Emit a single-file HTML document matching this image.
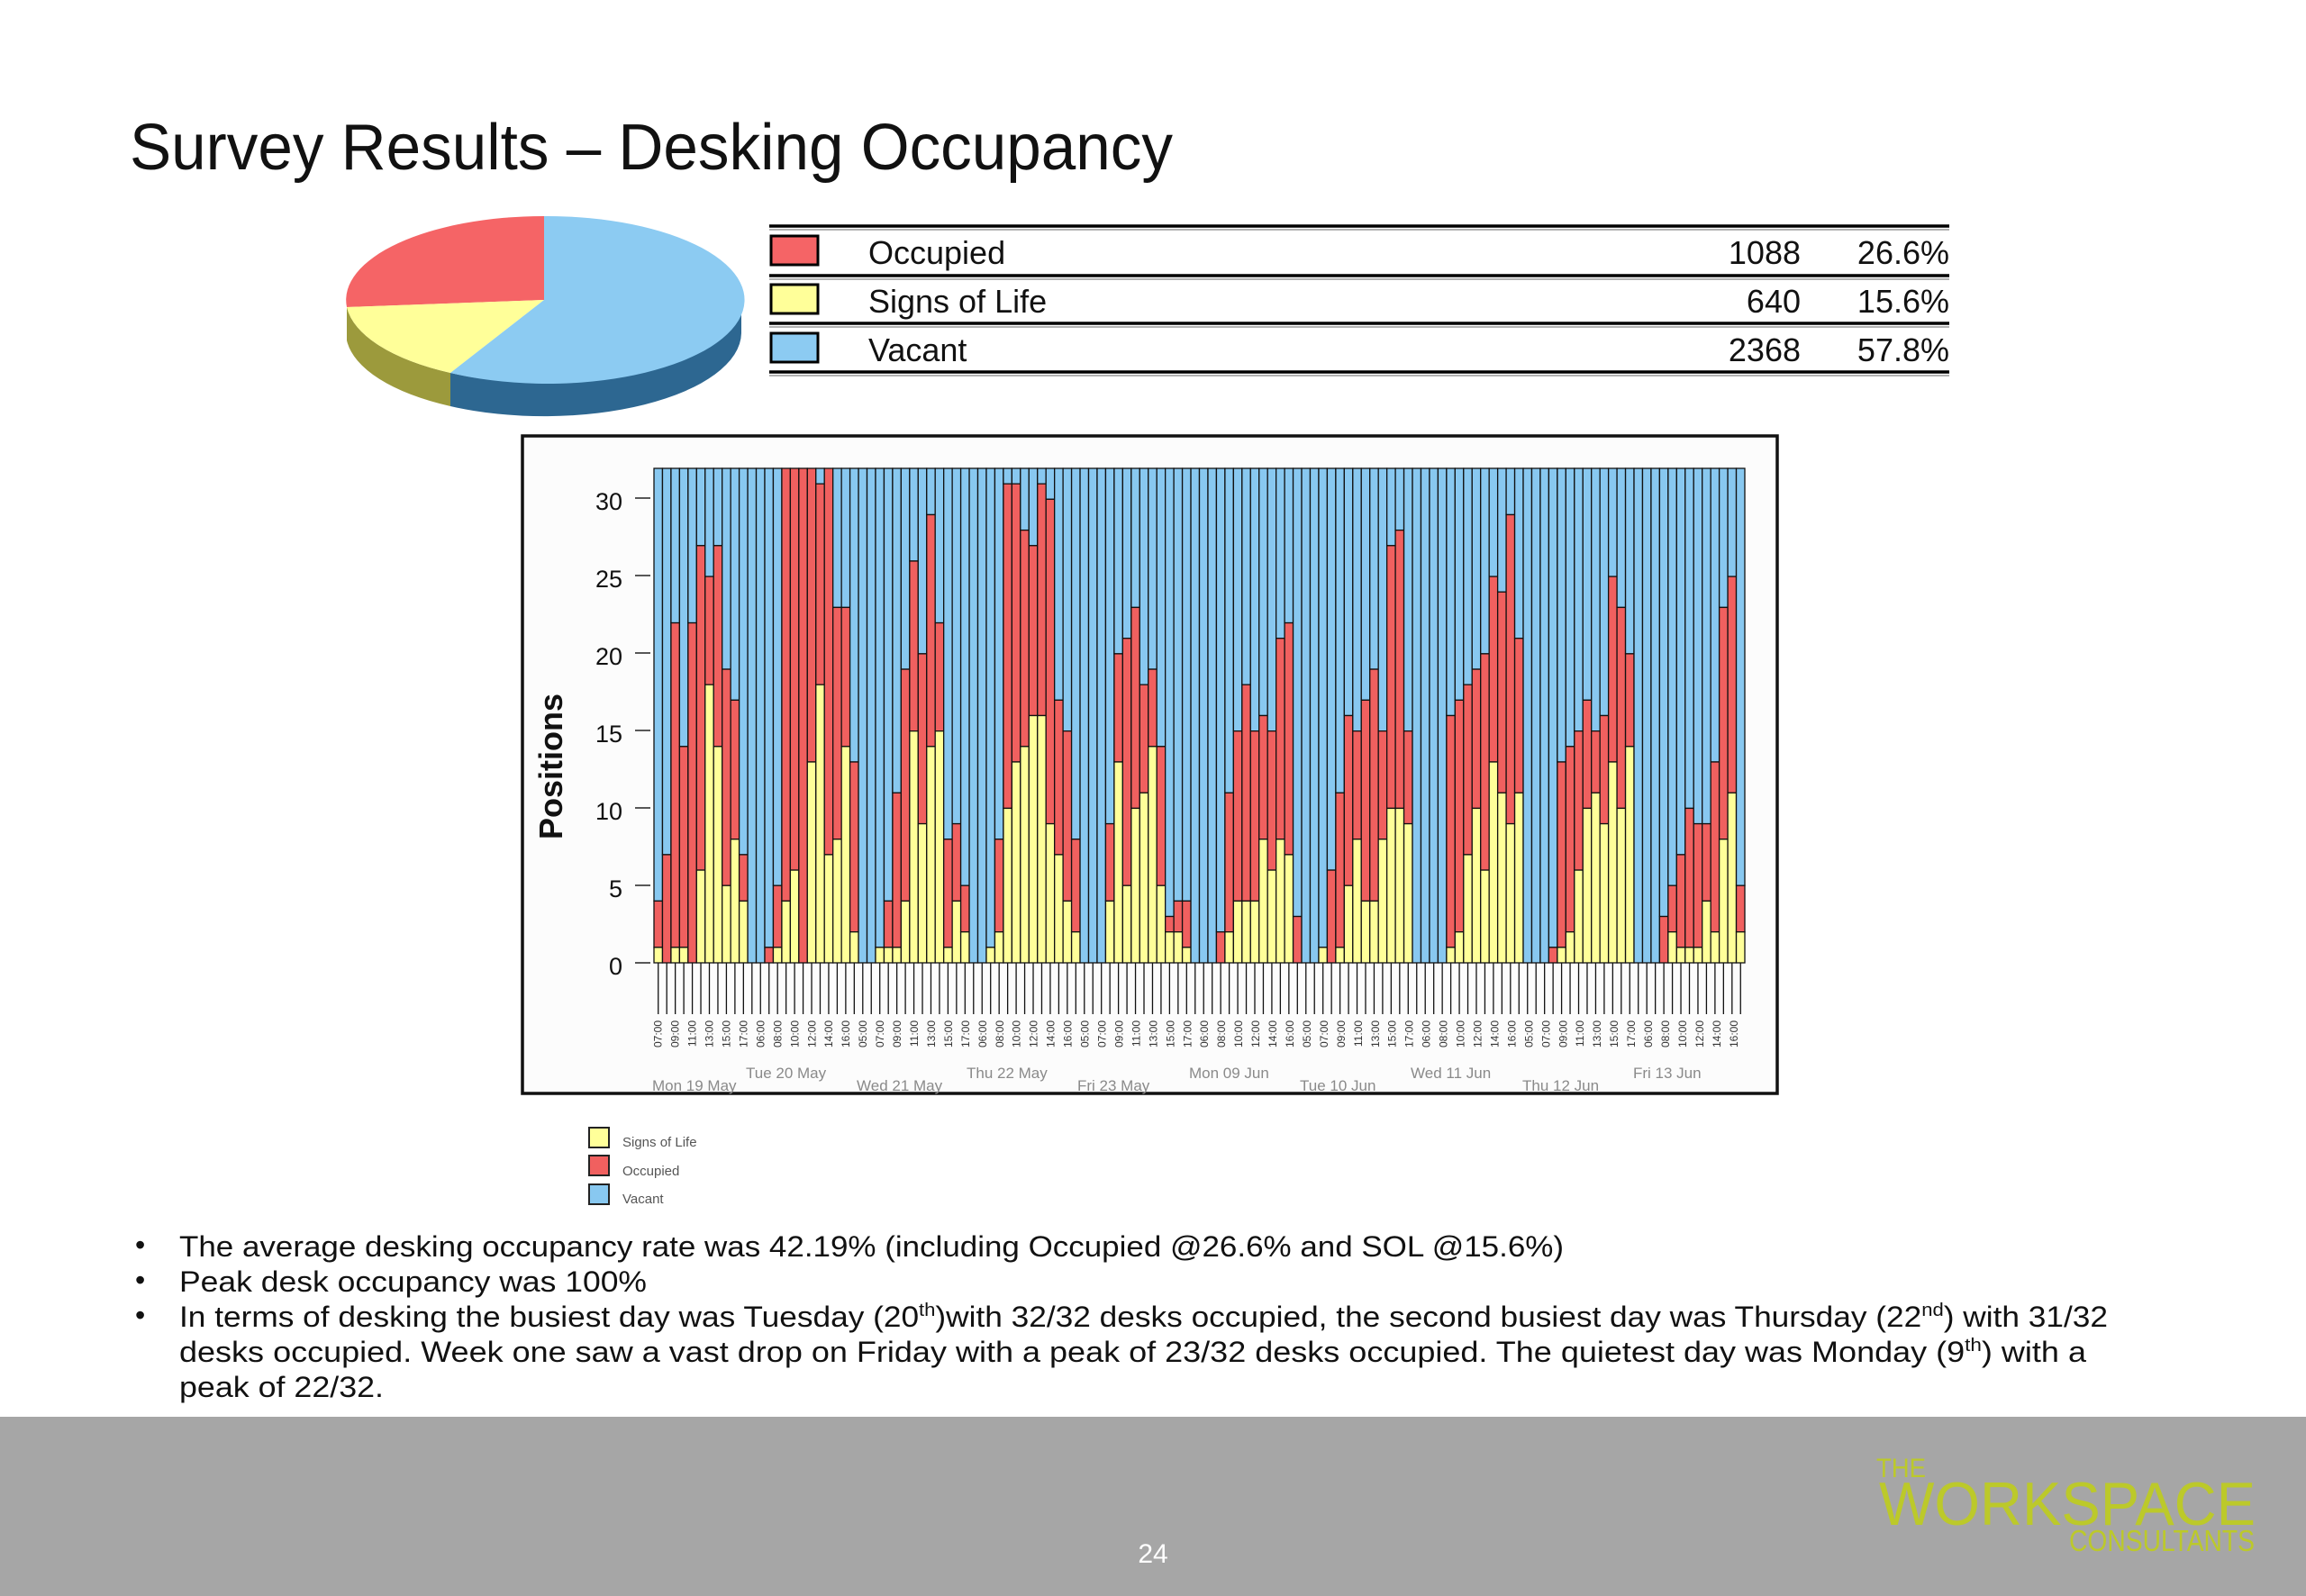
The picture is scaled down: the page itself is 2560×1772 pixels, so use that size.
<!DOCTYPE html>
<html><head><meta charset="utf-8"><style>
html,body{margin:0;padding:0;background:#fff;}
svg{display:block;}
text{font-family:"Liberation Sans",sans-serif;}
</style></head><body>
<svg id="s" width="2560" height="1772" viewBox="0 0 2560 1772" xmlns="http://www.w3.org/2000/svg">
<rect x="0" y="0" width="2560" height="1772" fill="#fff"/>
<text x="144" y="188" font-size="72" fill="#111" textLength="1158" lengthAdjust="spacingAndGlyphs">Survey Results – Desking Occupancy</text>

<!-- pie -->
<path d="M385,341 A219,93 0 0 0 500,414 L500,451 A219,93 0 0 1 385,378 Z" fill="#9c9a3c"/>
<path d="M500,414 A219,93 0 0 0 823,333 L823,370 A219,93 0 0 1 500,451 Z" fill="#2d6791"/>
<path d="M604,333 L604,240 A219,93 0 0 0 385,341 Z" fill="#f56466"/>
<path d="M604,333 L385,341 A219,93 0 0 0 500,414 Z" fill="#ffff99"/>
<path d="M604,333 L500,414 A219,93 0 1 0 604,240 Z" fill="#8ccbf2"/>

<!-- table -->
<g stroke="#000" stroke-width="3.5">
<line x1="854" y1="251" x2="2164" y2="251"/><line x1="854" y1="306" x2="2164" y2="306"/>
<line x1="854" y1="359" x2="2164" y2="359"/><line x1="854" y1="413" x2="2164" y2="413"/>
</g>
<g stroke="#999" stroke-width="1.5">
<line x1="854" y1="255" x2="2164" y2="255"/><line x1="854" y1="310" x2="2164" y2="310"/>
<line x1="854" y1="363" x2="2164" y2="363"/><line x1="854" y1="417" x2="2164" y2="417"/>
</g>
<g stroke="#000" stroke-width="3">
<rect x="856" y="262" width="52" height="32" fill="#f56466"/>
<rect x="856" y="316" width="52" height="32" fill="#ffff99"/>
<rect x="856" y="370" width="52" height="32" fill="#8ccbf2"/>
</g>
<g font-size="36" fill="#111">
<text x="964" y="293">Occupied</text>
<text x="964" y="347">Signs of Life</text>
<text x="964" y="401">Vacant</text>
<g text-anchor="end">
<text x="1999" y="293">1088</text><text x="2164" y="293">26.6%</text>
<text x="1999" y="347">640</text><text x="2164" y="347">15.6%</text>
<text x="1999" y="401">2368</text><text x="2164" y="401">57.8%</text>
</g></g>

<!-- chart frame -->
<rect x="580" y="484" width="1393" height="730" fill="#fcfcfc" stroke="#111" stroke-width="3.5"/>
<g id="bars"></g>
<g stroke="#222" stroke-width="1.5">
<line x1="705" y1="1069" x2="722" y2="1069"/><line x1="705" y1="983" x2="722" y2="983"/>
<line x1="705" y1="897" x2="722" y2="897"/><line x1="705" y1="811" x2="722" y2="811"/>
<line x1="705" y1="725" x2="722" y2="725"/><line x1="705" y1="639" x2="722" y2="639"/>
<line x1="705" y1="553" x2="722" y2="553"/>
</g>
<g font-size="27" fill="#111" text-anchor="end">
<text x="691" y="1082">0</text><text x="691" y="996">5</text><text x="691" y="910">10</text>
<text x="691" y="824">15</text><text x="691" y="738">20</text><text x="691" y="652">25</text><text x="691" y="566">30</text>
</g>
<text transform="translate(624,851) rotate(-90)" text-anchor="middle" font-size="36" font-weight="bold" fill="#111">Positions</text>

<g font-size="12" fill="#333" text-anchor="end">
<text transform="translate(734.7,1133) rotate(-90)">07:00</text>
<text transform="translate(753.7,1133) rotate(-90)">09:00</text>
<text transform="translate(772.6,1133) rotate(-90)">11:00</text>
<text transform="translate(791.6,1133) rotate(-90)">13:00</text>
<text transform="translate(810.5,1133) rotate(-90)">15:00</text>
<text transform="translate(829.5,1133) rotate(-90)">17:00</text>
<text transform="translate(848.4,1133) rotate(-90)">06:00</text>
<text transform="translate(867.4,1133) rotate(-90)">08:00</text>
<text transform="translate(886.3,1133) rotate(-90)">10:00</text>
<text transform="translate(905.3,1133) rotate(-90)">12:00</text>
<text transform="translate(924.2,1133) rotate(-90)">14:00</text>
<text transform="translate(943.2,1133) rotate(-90)">16:00</text>
<text transform="translate(962.1,1133) rotate(-90)">05:00</text>
<text transform="translate(981.1,1133) rotate(-90)">07:00</text>
<text transform="translate(1000.1,1133) rotate(-90)">09:00</text>
<text transform="translate(1019.0,1133) rotate(-90)">11:00</text>
<text transform="translate(1038.0,1133) rotate(-90)">13:00</text>
<text transform="translate(1056.9,1133) rotate(-90)">15:00</text>
<text transform="translate(1075.9,1133) rotate(-90)">17:00</text>
<text transform="translate(1094.8,1133) rotate(-90)">06:00</text>
<text transform="translate(1113.8,1133) rotate(-90)">08:00</text>
<text transform="translate(1132.7,1133) rotate(-90)">10:00</text>
<text transform="translate(1151.7,1133) rotate(-90)">12:00</text>
<text transform="translate(1170.6,1133) rotate(-90)">14:00</text>
<text transform="translate(1189.6,1133) rotate(-90)">16:00</text>
<text transform="translate(1208.6,1133) rotate(-90)">05:00</text>
<text transform="translate(1227.5,1133) rotate(-90)">07:00</text>
<text transform="translate(1246.5,1133) rotate(-90)">09:00</text>
<text transform="translate(1265.4,1133) rotate(-90)">11:00</text>
<text transform="translate(1284.4,1133) rotate(-90)">13:00</text>
<text transform="translate(1303.3,1133) rotate(-90)">15:00</text>
<text transform="translate(1322.3,1133) rotate(-90)">17:00</text>
<text transform="translate(1341.2,1133) rotate(-90)">06:00</text>
<text transform="translate(1360.2,1133) rotate(-90)">08:00</text>
<text transform="translate(1379.1,1133) rotate(-90)">10:00</text>
<text transform="translate(1398.1,1133) rotate(-90)">12:00</text>
<text transform="translate(1417.0,1133) rotate(-90)">14:00</text>
<text transform="translate(1436.0,1133) rotate(-90)">16:00</text>
<text transform="translate(1455.0,1133) rotate(-90)">05:00</text>
<text transform="translate(1473.9,1133) rotate(-90)">07:00</text>
<text transform="translate(1492.9,1133) rotate(-90)">09:00</text>
<text transform="translate(1511.8,1133) rotate(-90)">11:00</text>
<text transform="translate(1530.8,1133) rotate(-90)">13:00</text>
<text transform="translate(1549.7,1133) rotate(-90)">15:00</text>
<text transform="translate(1568.7,1133) rotate(-90)">17:00</text>
<text transform="translate(1587.6,1133) rotate(-90)">06:00</text>
<text transform="translate(1606.6,1133) rotate(-90)">08:00</text>
<text transform="translate(1625.5,1133) rotate(-90)">10:00</text>
<text transform="translate(1644.5,1133) rotate(-90)">12:00</text>
<text transform="translate(1663.5,1133) rotate(-90)">14:00</text>
<text transform="translate(1682.4,1133) rotate(-90)">16:00</text>
<text transform="translate(1701.4,1133) rotate(-90)">05:00</text>
<text transform="translate(1720.3,1133) rotate(-90)">07:00</text>
<text transform="translate(1739.3,1133) rotate(-90)">09:00</text>
<text transform="translate(1758.2,1133) rotate(-90)">11:00</text>
<text transform="translate(1777.2,1133) rotate(-90)">13:00</text>
<text transform="translate(1796.1,1133) rotate(-90)">15:00</text>
<text transform="translate(1815.1,1133) rotate(-90)">17:00</text>
<text transform="translate(1834.0,1133) rotate(-90)">06:00</text>
<text transform="translate(1853.0,1133) rotate(-90)">08:00</text>
<text transform="translate(1871.9,1133) rotate(-90)">10:00</text>
<text transform="translate(1890.9,1133) rotate(-90)">12:00</text>
<text transform="translate(1909.9,1133) rotate(-90)">14:00</text>
<text transform="translate(1928.8,1133) rotate(-90)">16:00</text>
</g>
<g font-size="17" fill="#8a8a8a">
<text x="724" y="1211">Mon 19 May</text>
<text x="828" y="1197">Tue 20 May</text>
<text x="951" y="1211">Wed 21 May</text>
<text x="1073" y="1197">Thu 22 May</text>
<text x="1196" y="1211">Fri 23 May</text>
<text x="1320" y="1197">Mon 09 Jun</text>
<text x="1443" y="1211">Tue 10 Jun</text>
<text x="1566" y="1197">Wed 11 Jun</text>
<text x="1690" y="1211">Thu 12 Jun</text>
<text x="1813" y="1197">Fri 13 Jun</text>
</g>

<!-- small legend -->
<g stroke="#222" stroke-width="2">
<rect x="654" y="1252" width="22" height="22" fill="#ffff99"/>
<rect x="654" y="1283" width="22" height="22" fill="#f0605f"/>
<rect x="654" y="1315" width="22" height="22" fill="#88c8f0"/>
</g>
<g font-size="15" fill="#555">
<text x="691" y="1273">Signs of Life</text>
<text x="691" y="1305">Occupied</text>
<text x="691" y="1336">Vacant</text>
</g>

<!-- bullets -->
<g font-size="32" fill="#111">
<text x="150" y="1393">•</text><text x="150" y="1432">•</text><text x="150" y="1471">•</text>
<text x="199" y="1395" textLength="1537" lengthAdjust="spacingAndGlyphs">The average desking occupancy rate was 42.19% (including Occupied @26.6% and SOL @15.6%)</text>
<text x="199" y="1434" textLength="519" lengthAdjust="spacingAndGlyphs">Peak desk occupancy was 100%</text>
<text x="199" y="1473" textLength="2141" lengthAdjust="spacingAndGlyphs">In terms of desking the busiest day was Tuesday (20<tspan font-size="20" dy="-12">th</tspan><tspan dy="12">)with 32/32 desks occupied, the second busiest day was Thursday (22</tspan><tspan font-size="20" dy="-12">nd</tspan><tspan dy="12">) with 31/32</tspan></text>
<text x="199" y="1512" textLength="2117" lengthAdjust="spacingAndGlyphs">desks occupied. Week one saw a vast drop on Friday with a peak of 23/32 desks occupied. The quietest day was Monday (9<tspan font-size="20" dy="-12">th</tspan><tspan dy="12">) with a</tspan></text>
<text x="199" y="1551" textLength="227" lengthAdjust="spacingAndGlyphs">peak of 22/32.</text>
</g>

<!-- footer -->
<rect x="0" y="1573" width="2560" height="199" fill="#a6a6a6"/>
<text x="1280" y="1735" font-size="30" fill="#fff" text-anchor="middle">24</text>
<g fill="#bcc92a">
<text x="2083" y="1640" font-size="30" textLength="55" lengthAdjust="spacingAndGlyphs">THE</text>
<text x="2086" y="1693" font-size="68" textLength="418" lengthAdjust="spacingAndGlyphs">WORKSPACE</text>
<text x="2297" y="1722" font-size="33" textLength="206" lengthAdjust="spacingAndGlyphs">CONSULTANTS</text>
</g>
</svg>
<script>
(function(){
var d=[[1,4],[0,7],[1,22],[1,14],[0,22],[6,27],[18,25],[14,27],[5,19],[8,17],[4,7],[0,0],[0,0],[0,1],[1,5],[4,32],[6,32],[0,32],[13,32],[18,31],[7,32],[8,23],[14,23],[2,13],[0,0],[0,0],[1,1],[1,4],[1,11],[4,19],[15,26],[9,20],[14,29],[15,22],[1,8],[4,9],[2,5],[0,0],[0,0],[1,1],[2,8],[10,31],[13,31],[14,28],[16,27],[16,31],[9,30],[7,17],[4,15],[2,8],[0,0],[0,0],[0,0],[4,9],[13,20],[5,21],[10,23],[11,18],[14,19],[5,14],[2,3],[2,4],[1,4],[0,0],[0,0],[0,0],[0,2],[2,11],[4,15],[4,18],[4,15],[8,16],[6,15],[8,21],[7,22],[0,3],[0,0],[0,0],[1,1],[0,6],[1,11],[5,16],[8,15],[4,17],[4,19],[8,15],[10,27],[10,28],[9,15],[0,0],[0,0],[0,0],[0,0],[1,16],[2,17],[7,18],[10,19],[6,20],[13,25],[11,24],[9,29],[11,21],[0,0],[0,0],[0,0],[0,1],[1,13],[2,14],[6,15],[10,17],[11,15],[9,16],[13,25],[10,23],[14,20],[0,0],[0,0],[0,0],[0,3],[2,5],[1,7],[1,10],[1,9],[4,9],[2,13],[8,23],[11,25],[2,5]];
var g=document.getElementById('bars');
var x0=726,w=(1937-726)/d.length,y0=1069,u=(1069-520)/32,h='';
for(var i=0;i<d.length;i++){
 var x=x0+i*w,s=d[i][0],o=d[i][1];
 h+='<rect x="'+x+'" y="'+(y0-32*u)+'" width="'+w+'" height="'+((32-o)*u)+'" fill="#88c8f0"/>';
 if(o>s)h+='<rect x="'+x+'" y="'+(y0-o*u)+'" width="'+w+'" height="'+((o-s)*u)+'" fill="#f0605f"/>';
 if(s>0)h+='<rect x="'+x+'" y="'+(y0-s*u)+'" width="'+w+'" height="'+(s*u)+'" fill="#ffff99"/>';
 h+='<line x1="'+(x+w/2)+'" y1="1069" x2="'+(x+w/2)+'" y2="1126" stroke="#111" stroke-width="1.3"/>';
}
g.setAttribute('stroke','#111');g.setAttribute('stroke-width','1.3');
g.innerHTML=h;
})();
</script>
</body></html>
